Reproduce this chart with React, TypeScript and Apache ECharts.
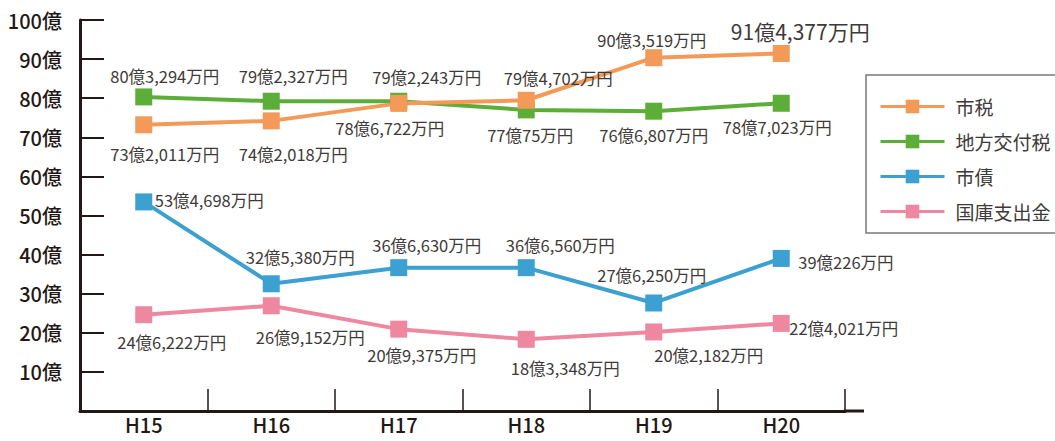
import React, { useEffect, useRef } from "react";
import * as echarts from "echarts";

const categories = ["H15", "H16", "H17", "H18", "H19", "H20"];
const yTicks = [0, 10, 20, 30, 40, 50, 60, 70, 80, 90, 100];

// values in 億円
const shizei = [73.2011, 74.2018, 78.6722, 79.4702, 90.3519, 91.4377];
const chihoKofuzei = [80.3294, 79.2327, 79.2243, 77.0075, 76.6807, 78.7023];
const shisai = [53.4698, 32.538, 36.663, 36.656, 27.625, 39.0226];
const kokkoShishutsukin = [24.6222, 26.9152, 20.9375, 18.3348, 20.2182, 22.4021];

// label placement (style only): [dx, dy, align]
const shizeiLabelPos: [number, number, string][] = [
  [21, 29, "center"], [22, 33, "center"], [-9, 25, "center"],
  [32, -22, "center"], [-2, -18, "center"], [19, -22, "center"],
];
const chihoLabelPos: [number, number, string][] = [
  [21, -21, "center"], [22, -25, "center"], [28, -24, "center"],
  [4, 25, "center"], [0, 24, "center"], [-4, 24, "center"],
];
const shisaiLabelPos: [number, number, string][] = [
  [11, -2, "left"], [29, -27, "center"], [28, -23, "center"],
  [34, -23, "center"], [-2, -28, "center"], [17, 4, "left"],
];
const kokkoLabelPos: [number, number, string][] = [
  [28, 27, "center"], [39, 31, "center"], [23, 26, "center"],
  [39, 29, "center"], [55, 23, "center"], [8, 5, "left"],
];

const COLORS = {
  shizei: "#F39A58",
  chiho: "#5DAE38",
  shisai: "#3CA0D0",
  kokko: "#EE88A0",
};

const TEXT = "#3E3A39";
const AXIS = "#231815";
const FONT = "'Noto Sans CJK JP', 'Noto Sans', sans-serif";

function fmt(v: number): string {
  const total = Math.round(v * 10000);
  const oku = Math.floor(total / 10000);
  const man = total % 10000;
  return `${oku}億${man.toLocaleString("en-US")}万円`;
}

function makeSeries(
  name: string,
  values: number[],
  color: string,
  pos: [number, number, string][],
  bigLast = false
) {
  return {
    name,
    type: "line",
    data: values.map((v, i) => ({
      value: v,
      label: {
        show: true,
        position: "inside",
        offset: [pos[i][0], pos[i][1]],
        align: pos[i][2],
        verticalAlign: "middle",
        formatter: () => fmt(v),
        color: TEXT,
        fontFamily: FONT,
        fontSize: bigLast && i === values.length - 1 ? 21 : 16.5,
      },
    })),
    symbol: "rect",
    symbolSize: 17,
    showAllSymbol: true,
    lineStyle: { width: 4, color },
    itemStyle: { color },
    emphasis: { disabled: true },
  };
}

export default function App() {
  const ref = useRef<HTMLDivElement>(null);
  useEffect(() => {
    if (!ref.current) return;
    const chart = echarts.init(ref.current, null, { renderer: "svg" });
    chart.setOption({
      animation: false,
      backgroundColor: "#ffffff",
      textStyle: { fontFamily: FONT },
      grid: { left: 80, right: 210, top: 20, bottom: 30, containLabel: false },
      legend: {
        data: ["市税", "地方交付税", "市債", "国庫支出金"],
        orient: "vertical",
        left: 879,
        top: 97,
        padding: 0,
        itemWidth: 64,
        itemHeight: 17,
        itemGap: 16,
        lineStyle: { width: 3 },
        textStyle: { fontSize: 19, color: TEXT, fontFamily: FONT, padding: [0, 0, 0, 6], lineHeight: 19 },
      },
      xAxis: {
        type: "category",
        data: categories,
        boundaryGap: true,
        axisLine: { lineStyle: { color: AXIS, width: 3 } },
        axisTick: { show: true, inside: true, length: 22, interval: 0, lineStyle: { color: AXIS, width: 1.5 } },
        axisLabel: { color: AXIS, fontSize: 20, fontWeight: 500, margin: 3, lineHeight: 20, fontFamily: FONT },
      },
      yAxis: {
        type: "value",
        min: yTicks[0],
        max: yTicks[yTicks.length - 1],
        interval: 10,
        splitLine: { show: false },
        axisLine: { show: true, lineStyle: { color: AXIS, width: 3 } },
        axisTick: { show: true, inside: true, length: 24, lineStyle: { color: AXIS, width: 2 } },
        axisLabel: {
          showMinLabel: false,
          color: AXIS,
          fontSize: 20,
          fontWeight: 500,
          margin: 18,
          fontFamily: FONT,
          formatter: (v: number) => `${v}億`,
        },
      },
      graphic: [
        {
          type: "line",
          shape: { x1: 844, y1: 411, x2: 864, y2: 411 },
          style: { stroke: AXIS, lineWidth: 3 },
        },
        {
          type: "rect",
          shape: { x: 866, y: 75, width: 220, height: 158 },
          style: { fill: "none", stroke: "#7a7a7a", lineWidth: 1.5 },
        },
      ],
      series: [
        makeSeries("地方交付税", chihoKofuzei, COLORS.chiho, chihoLabelPos),
        makeSeries("市税", shizei, COLORS.shizei, shizeiLabelPos, true),
        makeSeries("市債", shisai, COLORS.shisai, shisaiLabelPos),
        makeSeries("国庫支出金", kokkoShishutsukin, COLORS.kokko, kokkoLabelPos),
      ],
    });
    return () => chart.dispose();
  }, []);
  return (
    <div
      ref={ref}
      style={{ position: "fixed", left: 0, top: 0, width: 1055, height: 441, background: "#fff" }}
    />
  );
}
